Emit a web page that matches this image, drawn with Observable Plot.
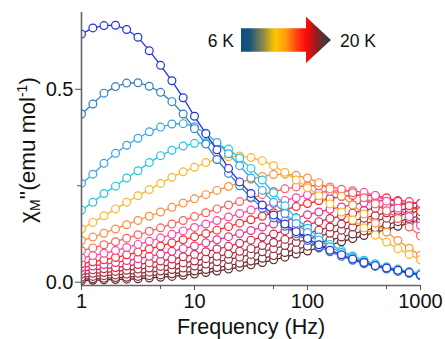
<!DOCTYPE html>
<html>
<head>
<meta charset="utf-8">
<script src="https://cdn.jsdelivr.net/npm/d3@7"></script>
<script src="https://cdn.jsdelivr.net/npm/@observablehq/plot@0.6"></script>
<style>
  html, body { margin: 0; padding: 0; background: white; }
  #chart { width: 445px; height: 339px; position: relative; }
</style>
</head>
<body>
<div id="chart"></div>
<script>
// Frequencies (Hz)
const freqs = [1, 1.26, 1.58, 2, 2.51, 3.16, 3.98, 5.01, 6.31, 7.94, 10, 12.6, 15.8, 20, 25.1, 31.6, 39.8, 50.1, 63.1, 79.4, 100, 126, 158, 200, 251, 316, 398, 501, 631, 794, 1000];

// Temperatures (K) and curve colours
const temps = [6, 7, 8, 9, 10, 11, 12, 13, 14, 15, 16, 17, 18, 19, 20];
const colors = ["#2233dd", "#2f7fc4", "#3aa2ea", "#22c6dc", "#ffb42a", "#ff8c3c", "#ff5c5c", "#ff45a6", "#ff2626", "#e8308c", "#d22848", "#ad2a3c", "#923040", "#7a3030", "#5c2a2a"];

// chi'' values (emu/mol), one array per temperature
const t6  = [0.643, 0.659, 0.665, 0.666, 0.655, 0.635, 0.600, 0.562, 0.522, 0.478, 0.430, 0.385, 0.343, 0.295, 0.260, 0.230, 0.200, 0.174, 0.151, 0.131, 0.113, 0.097, 0.083, 0.071, 0.060, 0.051, 0.043, 0.037, 0.031, 0.025, 0.019];
const t7  = [0.436, 0.462, 0.490, 0.507, 0.516, 0.517, 0.508, 0.492, 0.468, 0.436, 0.398, 0.358, 0.318, 0.282, 0.250, 0.220, 0.192, 0.167, 0.145, 0.126, 0.108, 0.092, 0.079, 0.067, 0.057, 0.048, 0.041, 0.034, 0.028, 0.023, 0.017];
const t8  = [0.256, 0.280, 0.308, 0.334, 0.355, 0.373, 0.390, 0.402, 0.410, 0.411, 0.403, 0.386, 0.362, 0.333, 0.302, 0.270, 0.238, 0.207, 0.178, 0.152, 0.129, 0.109, 0.092, 0.077, 0.064, 0.053, 0.044, 0.036, 0.029, 0.023, 0.017];
const t9  = [0.187, 0.207, 0.230, 0.249, 0.270, 0.289, 0.310, 0.328, 0.342, 0.353, 0.360, 0.362, 0.358, 0.345, 0.322, 0.295, 0.265, 0.232, 0.198, 0.166, 0.140, 0.117, 0.098, 0.082, 0.068, 0.057, 0.048, 0.040, 0.034, 0.028, 0.023];
const t10 = [0.138, 0.155, 0.172, 0.190, 0.207, 0.224, 0.240, 0.256, 0.272, 0.286, 0.298, 0.310, 0.319, 0.325, 0.327, 0.323, 0.315, 0.302, 0.285, 0.265, 0.245, 0.224, 0.203, 0.182, 0.161, 0.141, 0.122, 0.104, 0.087, 0.072, 0.058];
const t11 = [0.108, 0.117, 0.127, 0.138, 0.149, 0.160, 0.171, 0.182, 0.194, 0.205, 0.216, 0.227, 0.238, 0.248, 0.258, 0.267, 0.274, 0.279, 0.280, 0.277, 0.270, 0.258, 0.242, 0.223, 0.200, 0.177, 0.153, 0.130, 0.108, 0.088, 0.070];
const t12 = [0.082, 0.089, 0.097, 0.105, 0.114, 0.123, 0.132, 0.141, 0.151, 0.160, 0.170, 0.180, 0.190, 0.200, 0.209, 0.218, 0.227, 0.235, 0.242, 0.247, 0.250, 0.250, 0.247, 0.241, 0.232, 0.219, 0.203, 0.185, 0.165, 0.143, 0.120];
const t13 = [0.063, 0.069, 0.075, 0.082, 0.090, 0.098, 0.106, 0.115, 0.124, 0.133, 0.142, 0.151, 0.160, 0.169, 0.178, 0.187, 0.196, 0.204, 0.212, 0.219, 0.226, 0.232, 0.236, 0.238, 0.237, 0.233, 0.225, 0.210, 0.192, 0.170, 0.147];
const t14 = [0.048, 0.053, 0.058, 0.064, 0.071, 0.078, 0.086, 0.094, 0.102, 0.110, 0.118, 0.126, 0.135, 0.144, 0.153, 0.162, 0.171, 0.180, 0.188, 0.196, 0.204, 0.211, 0.217, 0.222, 0.225, 0.226, 0.224, 0.219, 0.210, 0.198, 0.183];
const t15 = [0.038, 0.042, 0.046, 0.051, 0.056, 0.061, 0.067, 0.073, 0.080, 0.087, 0.094, 0.102, 0.110, 0.118, 0.126, 0.134, 0.143, 0.151, 0.159, 0.167, 0.175, 0.182, 0.189, 0.195, 0.201, 0.206, 0.210, 0.212, 0.212, 0.209, 0.204];
const t16 = [0.029, 0.032, 0.035, 0.038, 0.042, 0.046, 0.050, 0.055, 0.060, 0.066, 0.072, 0.079, 0.086, 0.093, 0.101, 0.109, 0.117, 0.125, 0.133, 0.141, 0.149, 0.157, 0.165, 0.172, 0.179, 0.186, 0.192, 0.197, 0.201, 0.204, 0.205];
const t17 = [0.021, 0.023, 0.025, 0.028, 0.031, 0.034, 0.037, 0.041, 0.045, 0.050, 0.055, 0.061, 0.067, 0.073, 0.080, 0.087, 0.095, 0.103, 0.111, 0.119, 0.127, 0.135, 0.143, 0.151, 0.159, 0.166, 0.173, 0.180, 0.186, 0.191, 0.195];
const t18 = [0.013, 0.015, 0.017, 0.019, 0.021, 0.023, 0.026, 0.029, 0.033, 0.037, 0.042, 0.047, 0.053, 0.059, 0.065, 0.072, 0.079, 0.087, 0.095, 0.103, 0.111, 0.119, 0.127, 0.135, 0.143, 0.151, 0.159, 0.166, 0.173, 0.179, 0.185];
const t19 = [0.008, 0.009, 0.010, 0.012, 0.013, 0.015, 0.017, 0.019, 0.022, 0.025, 0.029, 0.033, 0.038, 0.043, 0.049, 0.055, 0.062, 0.069, 0.077, 0.085, 0.093, 0.101, 0.109, 0.117, 0.125, 0.133, 0.141, 0.149, 0.157, 0.165, 0.173];
const t20 = [0.004, 0.005, 0.006, 0.007, 0.008, 0.009, 0.011, 0.013, 0.015, 0.018, 0.021, 0.025, 0.029, 0.034, 0.039, 0.045, 0.051, 0.058, 0.065, 0.073, 0.081, 0.089, 0.097, 0.105, 0.113, 0.121, 0.129, 0.137, 0.145, 0.153, 0.161];

const series = [t6, t7, t8, t9, t10, t11, t12, t13, t14, t15, t16, t17, t18, t19, t20];

// Axis ticks
const xMajorTicks = [1, 10, 100, 1000];
const xMinorTicks = [5, 50, 500];
const yMajorTicks = [0, 0.5];
const yMinorTicks = [0.25];

const legendLow = "6 K";
const legendHigh = "20 K";
const xTitle = "Frequency (Hz)";

const FONT = "'Liberation Sans', Arial, Helvetica, sans-serif";
const yMin = -0.0085, yMax = 0.699;

const curveMarks = [];
for (let i = series.length - 1; i >= 0; i--) {
  const rows = freqs.map((f, j) => ({f, v: series[i][j], T: temps[i]}));
  curveMarks.push(
    Plot.line(rows, {x: "f", y: "v", stroke: colors[i], strokeWidth: 1.3, clip: true}),
    Plot.dot(rows, {x: "f", y: "v", r: 3.9, stroke: colors[i], fill: "white", strokeWidth: 1.2, clip: true})
  );
}

const plot = Plot.plot({
  width: 445,
  height: 339,
  marginLeft: 81,
  marginRight: 25,
  marginTop: 12,
  marginBottom: 54,
  style: {fontFamily: FONT, background: "white", color: "#111"},
  x: {type: "log", domain: [1, 1000]},
  y: {domain: [yMin, yMax]},
  marks: [
    ...curveMarks,
    Plot.ruleX([1], {stroke: "#666", strokeWidth: 1.6}),
    Plot.ruleY([yMin], {stroke: "#666", strokeWidth: 1.6}),
    Plot.axisX(xMajorTicks, {tickSize: 5, tickPadding: 3, fontSize: 20, tickFormat: d => String(d), label: null, stroke: "#555"}),
    Plot.axisX(xMinorTicks, {tickSize: 4, tickFormat: () => "", label: null, stroke: "#555"}),
    Plot.axisY(yMajorTicks, {tickSize: 6, tickPadding: 2, fontSize: 20, tickFormat: d3.format(".1f"), label: null, stroke: "#555"}),
    Plot.axisY(yMinorTicks, {tickSize: 4, tickFormat: () => "", label: null, stroke: "#555"})
  ]
});

document.getElementById("chart").appendChild(plot);

const svg = d3.select(plot);

// X title
svg.append("text")
  .attr("x", 251).attr("y", 334)
  .attr("text-anchor", "middle")
  .attr("font-family", FONT).attr("font-size", 21.5).attr("fill", "#111")
  .text(xTitle);

// Y title (rotated) with subscript / superscript
const yt = svg.append("text")
  .attr("transform", "translate(35,150) rotate(-90)")
  .attr("text-anchor", "middle")
  .attr("font-family", FONT).attr("font-size", 22.5).attr("fill", "#111");
yt.append("tspan").text("χ");
yt.append("tspan").attr("font-size", 14).attr("dy", 5).text("M");
yt.append("tspan").attr("dy", -5).text("''(emu mol");
yt.append("tspan").attr("font-size", 14).attr("dy", -8).text("-1");
yt.append("tspan").attr("dy", 8).text(")");

// Legend: gradient arrow
const defs = svg.append("defs");
const grad = defs.append("linearGradient")
  .attr("id", "tgrad").attr("gradientUnits", "userSpaceOnUse")
  .attr("x1", 241).attr("x2", 331).attr("y1", 0).attr("y2", 0);
[[0, "#0b4c88"], [0.1, "#1d5578"], [0.25, "#8f8a48"], [0.38, "#ffc600"], [0.5, "#ff9a10"], [0.63, "#ff3a10"], [0.72, "#ff0a0a"], [0.85, "#8a2020"], [0.95, "#3c3c3c"], [1, "#363636"]]
  .forEach(([o, c]) => grad.append("stop").attr("offset", o).attr("stop-color", c));

svg.append("polygon")
  .attr("points", "241,28.3 306,28.3 306,16.7 331,40 306,63 306,51.7 241,51.7")
  .attr("fill", "url(#tgrad)");

svg.append("text").attr("x", 234).attr("y", 47).attr("text-anchor", "end")
  .attr("font-family", FONT).attr("font-size", 17.5).attr("fill", "#111").text(legendLow);
svg.append("text").attr("x", 340).attr("y", 47).attr("text-anchor", "start")
  .attr("font-family", FONT).attr("font-size", 17.5).attr("fill", "#111").text(legendHigh);
</script>
</body>
</html>
